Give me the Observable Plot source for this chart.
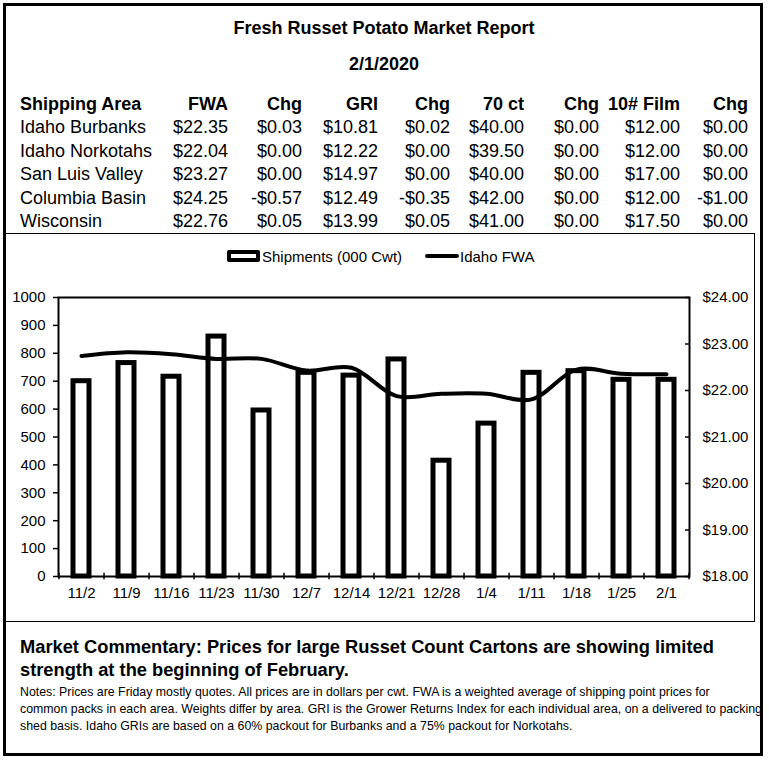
<!DOCTYPE html>
<html><head><meta charset="utf-8">
<script src="https://cdn.jsdelivr.net/npm/d3@7"></script>
<script src="https://cdn.jsdelivr.net/npm/@observablehq/plot@0.6"></script>
<style>
body{margin:0;background:#fff;font-family:"Liberation Sans",Arial,sans-serif;color:#000;}
#page{position:relative;width:769px;height:764px;overflow:hidden;}
</style></head><body><div id="page"></div>
<script>
// ---- data ----
const reportTitle = "Fresh Russet Potato Market Report";
const reportDate = "2/1/2020";
const headers = ["Shipping Area","FWA","Chg","GRI","Chg","70 ct","Chg","10# Film","Chg"];
const areas = ["Idaho Burbanks","Idaho Norkotahs","San Luis Valley","Columbia Basin","Wisconsin"];
const fwa = [22.35,22.04,23.27,24.25,22.76];
const fwaChg = [0.03,0.00,0.00,-0.57,0.05];
const gri = [10.81,12.22,14.97,12.49,13.99];
const griChg = [0.02,0.00,0.00,-0.35,0.05];
const ct70 = [40.00,39.50,40.00,42.00,41.00];
const ct70Chg = [0,0,0,0,0];
const film = [12.00,12.00,17.00,12.00,17.50];
const filmChg = [0,0,0,-1.00,0];

const weeks = ["11/2","11/9","11/16","11/23","11/30","12/7","12/14","12/21","12/28","1/4","1/11","1/18","1/25","2/1"];
const shipments = [700,765,716,860,595,730,720,778,415,548,730,736,705,705];
const idahoFWA = [22.74,22.82,22.78,22.68,22.68,22.43,22.49,21.88,21.93,21.93,21.81,22.45,22.36,22.35];
const shipTicks = [0,100,200,300,400,500,600,700,800,900,1000];
const priceTicks = [18,19,20,21,22,23,24];
const legendLabels = ["Shipments (000 Cwt)","Idaho FWA"];
const commentary = ["Market Commentary: Prices for large Russet Count Cartons are showing limited","strength at the beginning of February."];
const notes = ["Notes: Prices are Friday mostly quotes. All prices are in dollars per cwt. FWA is a weighted average of shipping point prices for",
"common packs in each area. Weights differ by area. GRI is the Grower Returns Index for each individual area, on a delivered to packing",
"shed basis. Idaho GRIs are based on a 60% packout for Burbanks and a 75% packout for Norkotahs."];

// ---- layout ----
const page = document.getElementById("page");
function el(tag, css, text){const e=document.createElement(tag);e.style.cssText=css;if(text!==undefined)e.textContent=text;page.appendChild(e);return e;}
function txt(text, x, yc, size, opts={}){
  const w = opts.bold?"bold":"normal";
  let css=`position:absolute;white-space:nowrap;line-height:${size}px;font-size:${size}px;font-weight:${w};top:${yc-size/2}px;`;
  if(opts.align==="right") css+=`right:${769-x}px;text-align:right;`;
  else if(opts.align==="center") css+=`left:${x-300}px;width:600px;text-align:center;`;
  else css+=`left:${x}px;`;
  return el("div",css,text);
}
const money = v => (v<0?"-":"")+"$"+Math.abs(v).toFixed(2);

// outer border
el("div","position:absolute;left:3px;top:3px;width:760px;height:753px;border:3px solid #000;box-sizing:border-box;");

txt(reportTitle,384,28,18,{bold:true,align:"center"});
txt(reportDate,384,64,18,{bold:true,align:"center"});

const colRight=[228,302,378,450,524,599,680,748];
const rowY=[103.5,127,150.5,174,197.5,221];
txt(headers[0],20,rowY[0],18,{bold:true});
headers.slice(1).forEach((h,j)=>txt(h,colRight[j],rowY[0],18,{bold:true,align:"right"}));
const cols=[fwa,fwaChg,gri,griChg,ct70,ct70Chg,film,filmChg];
areas.forEach((a,i)=>{
  txt(a,20,rowY[i+1],18);
  cols.forEach((c,j)=>txt(money(c[i]),colRight[j],rowY[i+1],18,{align:"right"}));
});

// chart box
el("div","position:absolute;left:5px;top:233px;width:750px;height:389px;border:1px solid #000;box-sizing:border-box;");

// legend
el("div","position:absolute;left:227px;top:250px;width:33px;height:12px;border:4px solid #000;border-radius:2px;box-sizing:border-box;background:#fff;");
txt(legendLabels[0],262,256,15);
el("div","position:absolute;left:425px;top:254px;width:34px;height:4px;background:#000;border-radius:2px;");
txt(legendLabels[1],460,256,15);

// chart
const toY = p => (p-18)/6*1000;
const fromY = v => 18 + v/1000*6;
const barData = weeks.map((w,i)=>({week:w, value:shipments[i]}));
const lineData = weeks.map((w,i)=>({week:w, price:idahoFWA[i]}));
const step = (750-53-66)/weeks.length;
const chart = Plot.plot({
  width:750, height:387,
  marginLeft:53, marginRight:66, marginTop:63, marginBottom:45,
  style:{fontFamily:"'Liberation Sans', Arial, sans-serif", fontSize:"15px", color:"#000", background:"transparent", overflow:"visible"},
  x:{domain:weeks, paddingInner:0.645, paddingOuter:0.3225, label:null},
  y:{domain:[0,1000], label:null},
  marks:[
    Plot.barY(barData,{x:"week", y:"value", fill:"white", stroke:"black", strokeWidth:5}),
    Plot.line(lineData,{x:"week", y:d=>toY(d.price), stroke:"black", strokeWidth:4, curve:"catmull-rom"}),
    Plot.frame({stroke:"black", strokeWidth:2}),
    Plot.axisY(shipTicks,{anchor:"left", label:null, tickSize:5, tickPadding:8, strokeWidth:1.5, tickFormat:d=>String(d)}),
    Plot.axisY(priceTicks.map(toY),{anchor:"right", label:null, tickSize:-5, tickPadding:18, strokeWidth:1.5, tickFormat:v=>"$"+fromY(v).toFixed(2)}),
    Plot.axisX({label:null, tickSize:0, tickPadding:11}),
    Plot.ruleX(weeks,{x:d=>d, dx:step/2, y1:()=>12, y2:()=>-12, stroke:"black", strokeWidth:1.5}),
    Plot.ruleX(weeks.slice(0,1),{x:d=>d, dx:-step/2, y1:()=>12, y2:()=>-12, stroke:"black", strokeWidth:1.5})
  ]
});
const holder = el("div","position:absolute;left:5px;top:234px;width:750px;height:387px;");
holder.appendChild(chart);

// commentary and notes
commentary.forEach((c,i)=>txt(c,20,647+i*23.5,18.3,{bold:true}));
notes.forEach((n,i)=>txt(n,20,692.5+i*17,12.35));
</script></body></html>
